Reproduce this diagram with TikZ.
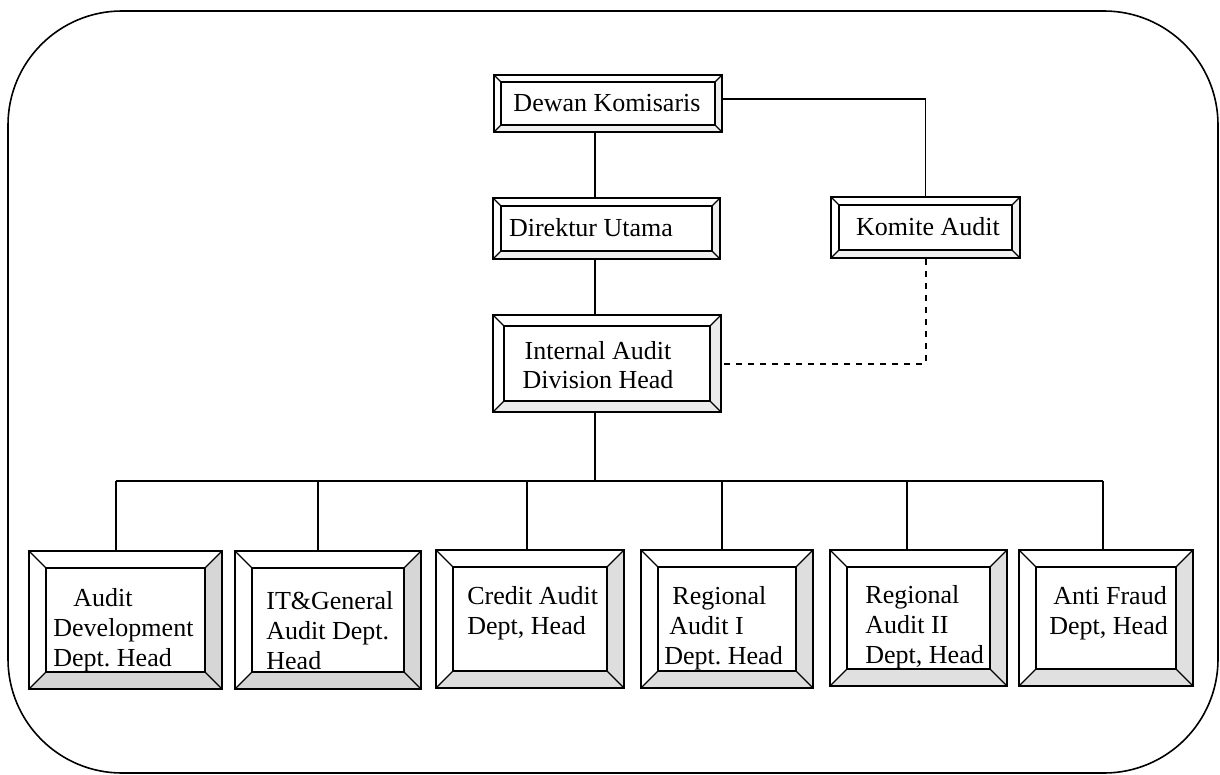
\documentclass[tikz,border=0pt]{standalone}
\usepackage{fontspec}
\setmainfont{Liberation Serif}
\usetikzlibrary{calc}
\frenchspacing
\begin{document}
\begin{tikzpicture}[x=0.5pt,y=-0.5pt,
  bevel/.style n args={2}{draw=black, line width=1.1pt, inner sep=0pt, rectangle,
    path picture={
      \coordinate (pSW) at (path picture bounding box.south west);
      \coordinate (pSE) at (path picture bounding box.south east);
      \coordinate (pNE) at (path picture bounding box.north east);
      \coordinate (pNW) at (path picture bounding box.north west);
      \fill[#2] (pSW) -- (pSE) -- (pNE) -- ($(pNE)+(-#1,-#1)$) -- ($(pSE)+(-#1,#1)$) -- ($(pSW)+(#1,#1)$) -- cycle;
      \draw[line width=0.9pt] ($(pSW)+(#1,#1)$) rectangle ($(pNE)+(-#1,-#1)$);
      \draw[line width=0.6pt] (pSW) -- ++(#1,#1) (pSE) -- ++(-#1,#1) (pNE) -- ++(-#1,-#1) (pNW) -- ++(#1,-#1);
    }},
  txt/.style={font=\fontsize{13}{15}\selectfont, inner sep=0pt, align=left},
  ctxt/.style={font=\fontsize{13}{14.5}\selectfont, inner sep=0pt, align=center},
  lnthin/.style={line width=0.6pt},
  lnthick/.style={line width=1.1pt},
  dashln/.style={line width=1pt, dash pattern=on 3pt off 3pt}
]
\useasboundingbox (0,0) rectangle (1220,775);
\draw[line width=0.8pt, rounded corners=57pt] (8,11) rectangle (1218,773);

% upper boxes
\node[bevel={3.5pt}{black!6}, minimum width=114pt, minimum height=28.5pt] (dk) at (608,103.5) {};
\node[bevel={4pt}{black!6}, minimum width=113.5pt, minimum height=30.5pt] (du) at (606.5,228.5) {};
\node[bevel={4pt}{black!6}, minimum width=94.5pt, minimum height=30.5pt] (ka) at (925.5,227.5) {};
\node[bevel={5.5pt}{black!8}, minimum width=114pt, minimum height=48.5pt] (ia) at (607,363.5) {};

% lower boxes
\node[bevel={8.5pt}{black!16}, minimum width=96.5pt, minimum height=69pt] (b1) at (125.5,620) {};
\node[bevel={8.5pt}{black!16}, minimum width=93pt, minimum height=69pt] (b2) at (328,620) {};
\node[bevel={8.5pt}{black!13}, minimum width=94pt, minimum height=69pt] (b3) at (530,619) {};
\node[bevel={8.5pt}{black!13}, minimum width=86pt, minimum height=69pt] (b4) at (727,619) {};
\node[bevel={8.5pt}{black!12}, minimum width=88.5pt, minimum height=68pt] (b5) at (918.5,618) {};
\node[bevel={8.5pt}{black!12}, minimum width=87pt, minimum height=68pt] (b6) at (1106,618) {};

% texts
\node[ctxt] (tdk) at (607,103) {Dewan Komisaris};
\node[ctxt] (tdu) at (591,228) {Direktur Utama};
\node[ctxt] (tka) at (928,227) {Komite Audit};
\node[ctxt] (tia) at (598,365) {Internal Audit\\Division Head};

\node[txt, anchor=west] (t1) at (53,630) {\hspace*{10pt}Audit\\Development\\Dept. Head};
\node[txt, anchor=west] (t2) at (266,631) {IT\&General\\Audit Dept.\\Head};
\node[txt, anchor=west] (t3) at (467,613) {Credit Audit\\Dept, Head};
\node[txt, anchor=west] (t4) at (664,628) {\hspace*{4pt}Regional\\\hspace*{2.5pt}Audit I\\Dept. Head};
\node[txt, anchor=west] (t5) at (865,627) {Regional\\Audit II\\Dept, Head};
\node[txt, anchor=west] (t6) at (1049,613) {\hspace*{2pt}Anti Fraud\\Dept, Head};

% connectors
\coordinate (sx) at (595,0);
\coordinate (busy) at (0,481);
\coordinate (d1) at (116,0);
\coordinate (d2) at (318,0);
\coordinate (d3) at (527,0);
\coordinate (d4) at (722,0);
\coordinate (d5) at (907,0);
\coordinate (d6) at (1103,0);
\coordinate (ky) at (0,99);

\draw[lnthin] (dk.south -| sx) -- (du.north -| sx);
\draw[lnthick] (du.south -| sx) -- (ia.north -| sx);
\draw[lnthick] (ia.south -| sx) -- (sx |- busy);
\draw[lnthin] (dk.east |- ky) -| (ka.north);
\draw[dashln] (ka.south) |- (ia.east);

\draw[lnthin] (d1 |- busy) -- (sx |- busy);
\draw[lnthick] (sx |- busy) -- (d6 |- busy);
\draw[lnthin] (d1 |- busy) -- (d1 |- b1.north);
\draw[lnthick] (d2 |- busy) -- (d2 |- b2.north);
\draw[lnthick] (d3 |- busy) -- (d3 |- b3.north);
\draw[lnthick] (d4 |- busy) -- (d4 |- b4.north);
\draw[lnthin] (d5 |- busy) -- (d5 |- b5.north);
\draw[lnthin] (d6 |- busy) -- (d6 |- b6.north);
\end{tikzpicture}
\end{document}
